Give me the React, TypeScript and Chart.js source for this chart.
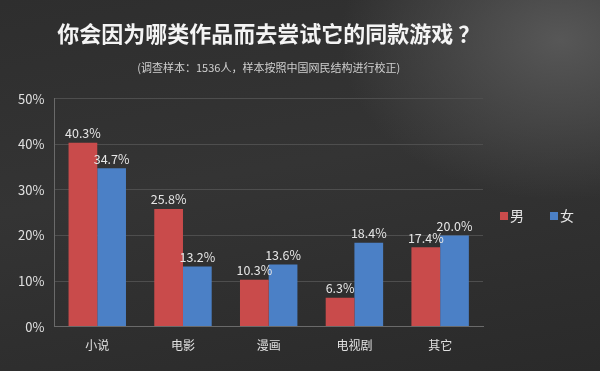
import React, { useEffect, useRef } from "react";
import { Chart, registerables } from "chart.js";

Chart.register(...registerables);

const categories = ["小说", "电影", "漫画", "电视剧", "其它"];
const male = [40.3, 25.8, 10.3, 6.3, 17.4];
const female = [34.7, 13.2, 13.6, 18.4, 20.0];
const seriesNames = ["男", "女"];
const yTicks = [0, 10, 20, 30, 40, 50];
const titleText = "你会因为哪类作品而去尝试它的同款游戏 ？";
const subtitleText = "(调查样本：1536人，样本按照中国网民结构进行校正)";

const RED = "#c94b4b";
const BLUE = "#4b80c6";
const FONT = "'Noto Sans CJK SC', 'Noto Sans', sans-serif";

const valueLabels = {
  id: "valueLabels",
  afterDatasetsDraw(chart: any) {
    const ctx = chart.ctx;
    ctx.save();
    ctx.fillStyle = "#e6e6e6";
    ctx.font = `12.5px ${FONT}`;
    ctx.textAlign = "center";
    ctx.textBaseline = "bottom";
    chart.data.datasets.forEach((ds: any, i: number) => {
      const meta = chart.getDatasetMeta(i);
      meta.data.forEach((bar: any, j: number) => {
        ctx.fillText(ds.data[j].toFixed(1) + "%", bar.x, bar.y - 3);
      });
    });
    ctx.restore();
  },
};

const customLegend = {
  id: "customLegend",
  afterDraw(chart: any) {
    const ctx = chart.ctx;
    const area = chart.chartArea;
    ctx.save();
    const y = 216;
    const startX = area.right + 17;
    const gap = 50;
    ctx.font = `14px ${FONT}`;
    ctx.textBaseline = "middle";
    ctx.textAlign = "left";
    chart.data.datasets.forEach((ds: any, i: number) => {
      const x = startX + i * gap;
      ctx.fillStyle = ds.backgroundColor;
      ctx.fillRect(x, y - 4, 8, 8);
      ctx.fillStyle = "#e6e6e6";
      ctx.fillText(seriesNames[i], x + 10, y);
    });
    ctx.restore();
  },
};

export default function App() {
  const ref = useRef<HTMLCanvasElement>(null);
  useEffect(() => {
    if (!ref.current) return;
    const chart = new Chart(ref.current, {
      type: "bar",
      data: {
        labels: categories,
        datasets: [
          { label: seriesNames[0], data: male, backgroundColor: RED },
          { label: seriesNames[1], data: female, backgroundColor: BLUE },
        ],
      },
      options: {
        animation: false,
        responsive: false,
        maintainAspectRatio: false,
        layout: { padding: { left: 8, right: 117, top: 0, bottom: 14 } },
        datasets: { bar: { categoryPercentage: 0.67, barPercentage: 1.0 } },
        plugins: {
          legend: { display: false },
          tooltip: { enabled: false },
          title: {
            display: true,
            text: titleText,
            fullSize: false,
            color: "#f4f4f4",
            font: { family: FONT, size: 22, weight: "bold" },
            padding: { top: 20, bottom: 15 },
          },
          subtitle: {
            display: true,
            text: subtitleText,
            fullSize: false,
            color: "#d0d0d0",
            font: { family: FONT, size: 11 },
            padding: { top: 0, bottom: 24 },
          },
        },
        scales: {
          x: {
            grid: { display: false, drawTicks: true },
            border: { display: true, color: "#6a6a6a" },
            ticks: { color: "#e0e0e0", font: { family: FONT, size: 12 }, padding: 4 },
          },
          y: {
            min: 0,
            max: 50,
            afterBuildTicks(scale: any) {
              scale.ticks = yTicks.map((v) => ({ value: v }));
            },
            grid: { color: "#4e4e4e", drawTicks: false },
            border: { display: true, color: "#6a6a6a" },
            ticks: {
              color: "#e0e0e0",
              font: { family: FONT, size: 13 },
              padding: 10,
              callback: (v: any) => v + "%",
            },
          },
        },
      },
      plugins: [valueLabels, customLegend],
    });
    return () => chart.destroy();
  }, []);
  return (
    <div
      style={{
        position: "fixed",
        left: 0,
        top: 0,
        width: 600,
        height: 371,
        background:
          "radial-gradient(ellipse 220px 160px at 560px 40px, #575757 0%, rgba(80,80,80,0) 100%), linear-gradient(170deg, #2e2e2e 0%, #343434 45%, #2a2a2a 100%)",
      }}
    >
      <canvas ref={ref} width={600} height={371} style={{ display: "block" }} />
    </div>
  );
}
